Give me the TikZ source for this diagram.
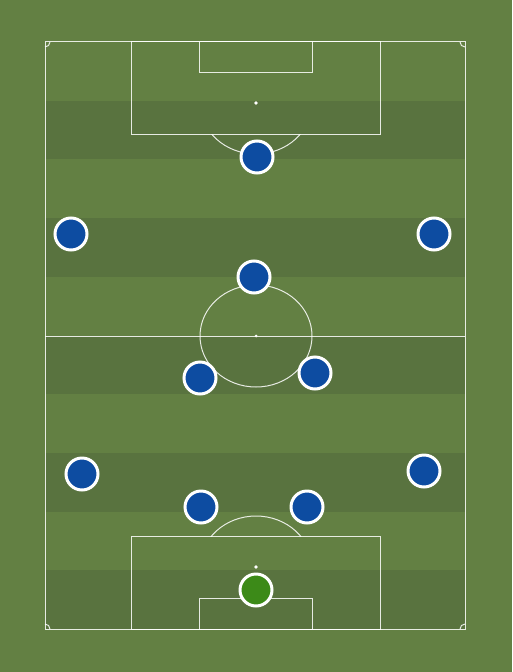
\documentclass[tikz,border=0pt]{standalone}
\usepackage{tikz}
\usetikzlibrary{positioning,shadows}
\definecolor{grass}{RGB}{99,128,67}
\definecolor{stripe}{RGB}{89,115,63}
\definecolor{kitblue}{RGB}{13,76,161}
\definecolor{kitgreen}{RGB}{60,138,24}
\begin{document}
\begin{tikzpicture}[x=0.02cm, y=-0.02cm, pitch line/.style={draw=white,draw opacity=0.85,line width=0.02cm},
  player/.style={circle,draw=white,line width=0.06cm,minimum size=0.64cm,inner sep=0pt,fill=kitblue,drop shadow={opacity=0.35,shadow xshift=0.3pt,shadow yshift=-0.6pt}},
  keeper/.style={player,fill=kitgreen}]
\useasboundingbox (0,0) rectangle (512,672);
\fill[grass] (0,0) rectangle (512,672);
% stripes
\foreach \s in {1,3,5,7,9}
  \fill[stripe] (45,42+58.7*\s) rectangle (465,42+58.7*\s+58.7);
% outline and halfway line
\draw[pitch line] (45,42) rectangle (465,629);
\draw[pitch line] (45,336) -- (465,336);
\draw[pitch line] (256,336) circle [x radius=56, y radius=51];
\fill[white] (256,336) circle [radius=1.5];
% top end
\draw[pitch line] (131,42) rectangle (380,135);
\draw[pitch line] (199,42) rectangle (312,73);
\fill[white] (256,103) circle [radius=1.8];
\begin{scope}
\clip (0,135) rectangle (512,300);
\draw[pitch line] (256,103) circle [x radius=56, y radius=51];
\end{scope}
% bottom end
\draw[pitch line] (131,536) rectangle (380,629);
\draw[pitch line] (199,598) rectangle (312,629);
\fill[white] (256,567) circle [radius=1.8];
\begin{scope}
\clip (0,400) rectangle (512,536);
\draw[pitch line] (256,567) circle [x radius=56, y radius=51];
\end{scope}
% corners
\draw[pitch line] (50,42) arc (0:90:5);
\draw[pitch line] (460,42) arc (180:90:5);
\draw[pitch line] (50,629) arc (0:-90:5);
\draw[pitch line] (460,629) arc (180:270:5);
% players
\node[player] (st) at (257,157) {};
\node[player] (lw) at (71,234) {};
\node[player] (rw) at (434,234) {};
\node[player] (am) at (254,277) {};
\node[player] (lcm) at (200,378) {};
\node[player] (rcm) at (315,373) {};
\node[player] (lb) at (82,474) {};
\node[player] (rb) at (424,471) {};
\node[player] (lcb) at (201,507) {};
\node[player] (rcb) at (307,507) {};
\node[keeper] (gk) at (256,590) {};
\end{tikzpicture}
\end{document}
